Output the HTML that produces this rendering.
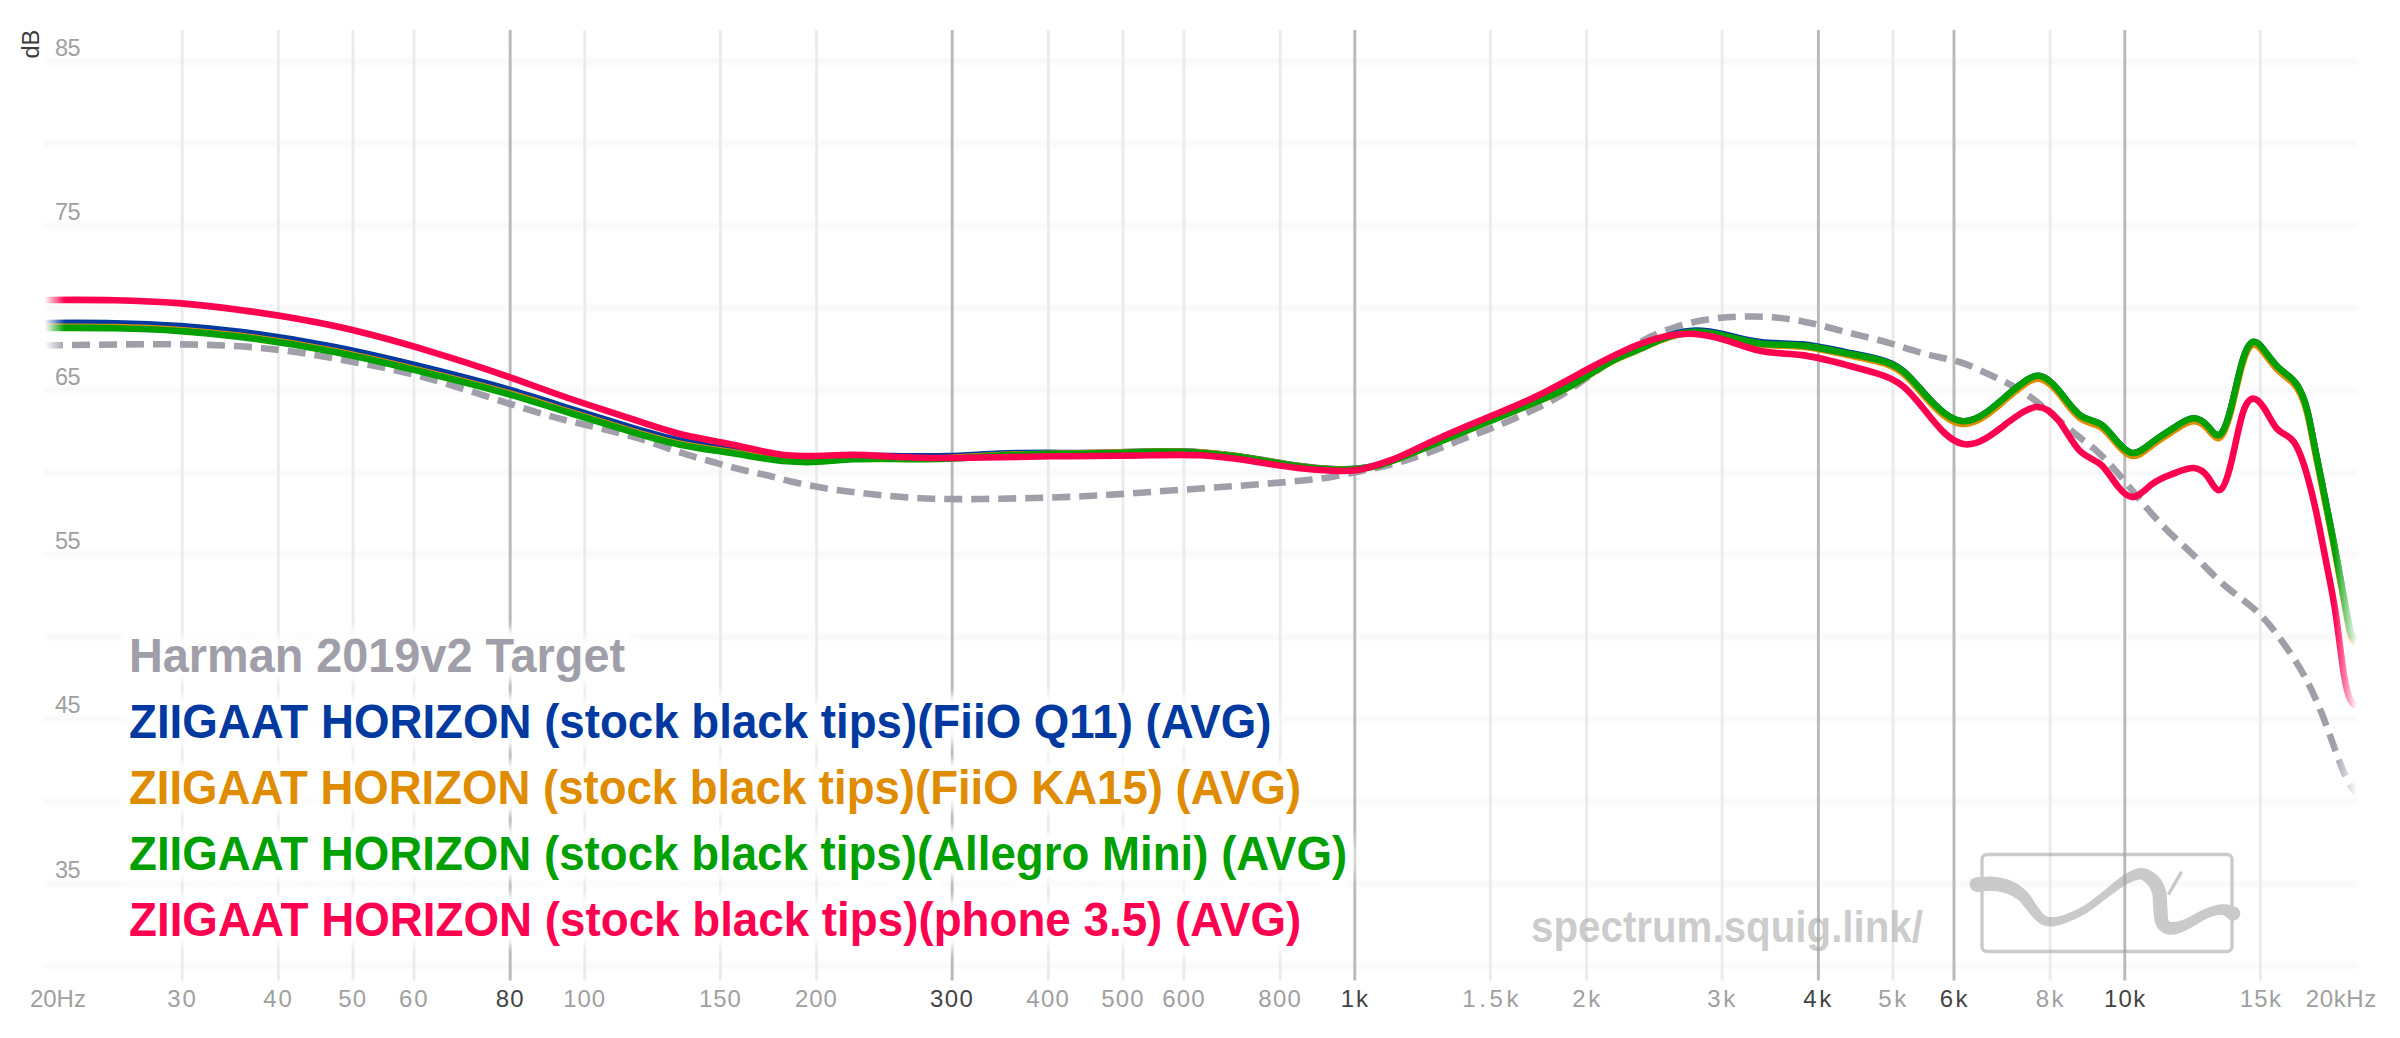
<!DOCTYPE html>
<html><head><meta charset="utf-8"><title>Frequency response</title>
<style>html,body{margin:0;padding:0;background:#fff;width:2400px;height:1038px;overflow:hidden}svg{display:block}</style>
</head><body>
<svg width="2400" height="1038" viewBox="0 0 2400 1038">
<defs>
<filter id="hb" x="-1%" y="-300%" width="102%" height="700%"><feGaussianBlur stdDeviation="2.2"/></filter>
<filter id="halo" x="-5%" y="-40%" width="110%" height="180%"><feGaussianBlur stdDeviation="4.5"/></filter>
<linearGradient id="fl" gradientUnits="userSpaceOnUse" x1="44.5" y1="0" x2="65" y2="0"><stop offset="0" stop-color="#000"/><stop offset="1" stop-color="#fff"/></linearGradient>
<linearGradient id="fr" gradientUnits="userSpaceOnUse" x1="2334" y1="0" x2="2357" y2="0"><stop offset="0" stop-color="#fff"/><stop offset="1" stop-color="#000"/></linearGradient>
<mask id="m" maskUnits="userSpaceOnUse" x="0" y="0" width="2400" height="1038">
<rect x="0" y="0" width="2400" height="1038" fill="#000"/>
<rect x="65" y="0" width="2269" height="1038" fill="#fff"/>
<rect x="44.5" y="0" width="20.5" height="1038" fill="url(#fl)"/>
<rect x="2334" y="0" width="23" height="1038" fill="url(#fr)"/>
</mask>
</defs>
<rect width="2400" height="1038" fill="#fff"/>
<g filter="url(#hb)" stroke="#f7f7f7" stroke-width="5">
<line x1="44" x2="2357" y1="965.6" y2="965.6"/>
<line x1="44" x2="2357" y1="883.4" y2="883.4"/>
<line x1="44" x2="2357" y1="801.2" y2="801.2"/>
<line x1="44" x2="2357" y1="719.0" y2="719.0"/>
<line x1="44" x2="2357" y1="636.8" y2="636.8"/>
<line x1="44" x2="2357" y1="554.6" y2="554.6"/>
<line x1="44" x2="2357" y1="472.4" y2="472.4"/>
<line x1="44" x2="2357" y1="390.1" y2="390.1"/>
<line x1="44" x2="2357" y1="307.9" y2="307.9"/>
<line x1="44" x2="2357" y1="225.7" y2="225.7"/>
<line x1="44" x2="2357" y1="143.5" y2="143.5"/>
<line x1="44" x2="2357" y1="61.3" y2="61.3"/>
</g>
<g stroke-width="2.9">
<line x1="182.18" x2="182.18" y1="30" y2="980.6" stroke="#ebebeb"/>
<line x1="278.39" x2="278.39" y1="30" y2="980.6" stroke="#ebebeb"/>
<line x1="353.01" x2="353.01" y1="30" y2="980.6" stroke="#ebebeb"/>
<line x1="413.98" x2="413.98" y1="30" y2="980.6" stroke="#ebebeb"/>
<line x1="584.80" x2="584.80" y1="30" y2="980.6" stroke="#ebebeb"/>
<line x1="720.39" x2="720.39" y1="30" y2="980.6" stroke="#ebebeb"/>
<line x1="816.59" x2="816.59" y1="30" y2="980.6" stroke="#ebebeb"/>
<line x1="1048.39" x2="1048.39" y1="30" y2="980.6" stroke="#ebebeb"/>
<line x1="1123.01" x2="1123.01" y1="30" y2="980.6" stroke="#ebebeb"/>
<line x1="1183.98" x2="1183.98" y1="30" y2="980.6" stroke="#ebebeb"/>
<line x1="1280.18" x2="1280.18" y1="30" y2="980.6" stroke="#ebebeb"/>
<line x1="1490.39" x2="1490.39" y1="30" y2="980.6" stroke="#ebebeb"/>
<line x1="1586.59" x2="1586.59" y1="30" y2="980.6" stroke="#ebebeb"/>
<line x1="1722.18" x2="1722.18" y1="30" y2="980.6" stroke="#ebebeb"/>
<line x1="1893.01" x2="1893.01" y1="30" y2="980.6" stroke="#ebebeb"/>
<line x1="2050.18" x2="2050.18" y1="30" y2="980.6" stroke="#ebebeb"/>
<line x1="2260.39" x2="2260.39" y1="30" y2="980.6" stroke="#ebebeb"/>
<line x1="510.18" x2="510.18" y1="30" y2="980.6" stroke="#b9b9b9"/>
<line x1="952.18" x2="952.18" y1="30" y2="980.6" stroke="#b9b9b9"/>
<line x1="1354.80" x2="1354.80" y1="30" y2="980.6" stroke="#b9b9b9"/>
<line x1="1818.39" x2="1818.39" y1="30" y2="980.6" stroke="#b9b9b9"/>
<line x1="1953.98" x2="1953.98" y1="30" y2="980.6" stroke="#b9b9b9"/>
<line x1="2124.80" x2="2124.80" y1="30" y2="980.6" stroke="#b9b9b9"/>
</g>
<g font-family="Liberation Sans, sans-serif" font-size="23.5" fill="#a0a0a0">
<text x="55" y="55.7" textLength="25.5" lengthAdjust="spacing">85</text>
<text x="55" y="220.1" textLength="25.5" lengthAdjust="spacing">75</text>
<text x="55" y="384.5" textLength="25.5" lengthAdjust="spacing">65</text>
<text x="55" y="549.0" textLength="25.5" lengthAdjust="spacing">55</text>
<text x="55" y="713.4" textLength="25.5" lengthAdjust="spacing">45</text>
<text x="55" y="877.8" textLength="25.5" lengthAdjust="spacing">35</text>
</g>
<text transform="translate(38.5,58.5) rotate(-90)" font-family="Liberation Sans, sans-serif" font-size="23.5" fill="#3c3c3c">dB</text>
<g font-family="Liberation Sans, sans-serif" font-size="24">
<text x="30.0" y="1007" fill="#a0a0a0" textLength="55.9" lengthAdjust="spacing">20Hz</text>
<text x="167.3" y="1007" fill="#a0a0a0" textLength="28.6" lengthAdjust="spacing">30</text>
<text x="263.3" y="1007" fill="#a0a0a0" textLength="28.6" lengthAdjust="spacing">40</text>
<text x="338.3" y="1007" fill="#a0a0a0" textLength="27.9" lengthAdjust="spacing">50</text>
<text x="399.0" y="1007" fill="#a0a0a0" textLength="28.5" lengthAdjust="spacing">60</text>
<text x="495.7" y="1007" fill="#444" textLength="27.8" lengthAdjust="spacing">80</text>
<text x="563.3" y="1007" fill="#a0a0a0" textLength="41.9" lengthAdjust="spacing">100</text>
<text x="699.0" y="1007" fill="#a0a0a0" textLength="41.9" lengthAdjust="spacing">150</text>
<text x="795.0" y="1007" fill="#a0a0a0" textLength="41.9" lengthAdjust="spacing">200</text>
<text x="930.0" y="1007" fill="#444" textLength="42.9" lengthAdjust="spacing">300</text>
<text x="1026.3" y="1007" fill="#a0a0a0" textLength="42.6" lengthAdjust="spacing">400</text>
<text x="1101.3" y="1007" fill="#a0a0a0" textLength="42.2" lengthAdjust="spacing">500</text>
<text x="1162.3" y="1007" fill="#a0a0a0" textLength="42.2" lengthAdjust="spacing">600</text>
<text x="1258.3" y="1007" fill="#a0a0a0" textLength="42.6" lengthAdjust="spacing">800</text>
<text x="1340.7" y="1007" fill="#444" textLength="27.2" lengthAdjust="spacing">1k</text>
<text x="1462.3" y="1007" fill="#a0a0a0" textLength="56.2" lengthAdjust="spacing">1.5k</text>
<text x="1572.3" y="1007" fill="#a0a0a0" textLength="27.9" lengthAdjust="spacing">2k</text>
<text x="1707.3" y="1007" fill="#a0a0a0" textLength="27.9" lengthAdjust="spacing">3k</text>
<text x="1803.3" y="1007" fill="#444" textLength="27.9" lengthAdjust="spacing">4k</text>
<text x="1878.3" y="1007" fill="#a0a0a0" textLength="27.9" lengthAdjust="spacing">5k</text>
<text x="1939.7" y="1007" fill="#444" textLength="27.8" lengthAdjust="spacing">6k</text>
<text x="2035.7" y="1007" fill="#a0a0a0" textLength="27.8" lengthAdjust="spacing">8k</text>
<text x="2104.0" y="1007" fill="#444" textLength="41.2" lengthAdjust="spacing">10k</text>
<text x="2239.7" y="1007" fill="#a0a0a0" textLength="41.2" lengthAdjust="spacing">15k</text>
<text x="2305.7" y="1007" fill="#a0a0a0" textLength="70.5" lengthAdjust="spacing">20kHz</text>
</g>
<text x="1531" y="942" font-family="Liberation Sans, sans-serif" font-weight="bold" font-size="44" fill="#a0a0a0" fill-opacity="0.55" textLength="392" lengthAdjust="spacingAndGlyphs">spectrum.squig.link/</text>
<g opacity="0.55">
<rect x="1982" y="854.5" width="250" height="97" rx="5" fill="none" stroke="#a0a0a0" stroke-width="3.4"/>
<path d="M1977.4,892.0 L1978.3,891.9 L1979.5,891.8 L1980.8,891.7 L1982.2,891.6 L1983.7,891.4 L1985.2,891.3 L1986.8,891.1 L1988.4,891.0 L1989.9,891.0 L1991.4,890.9 L1992.7,890.9 L1993.8,891.0 L1995.0,891.1 L1996.3,891.2 L1997.5,891.4 L1998.8,891.6 L2000.0,891.9 L2001.2,892.1 L2002.5,892.4 L2003.6,892.7 L2004.8,893.1 L2005.9,893.4 L2007.0,893.8 L2008.0,894.2 L2009.0,894.6 L2010.0,895.0 L2010.9,895.4 L2011.8,895.9 L2012.7,896.3 L2013.6,896.8 L2014.4,897.4 L2015.3,897.9 L2016.1,898.5 L2017.0,899.2 L2017.8,899.8 L2018.6,900.5 L2019.4,901.1 L2020.1,901.8 L2020.8,902.6 L2021.5,903.4 L2022.3,904.3 L2023.0,905.3 L2023.8,906.3 L2024.6,907.3 L2025.4,908.4 L2026.3,909.5 L2027.2,910.6 L2028.0,911.6 L2028.9,912.5 L2029.7,913.4 L2030.5,914.4 L2031.3,915.4 L2032.2,916.4 L2033.0,917.4 L2033.9,918.4 L2034.8,919.4 L2035.8,920.3 L2036.7,921.3 L2037.8,922.1 L2038.8,922.9 L2039.9,923.6 L2040.8,924.2 L2041.9,924.7 L2042.9,925.1 L2043.9,925.5 L2044.9,925.8 L2046.0,926.1 L2047.0,926.2 L2048.0,926.3 L2049.1,926.4 L2050.1,926.4 L2051.1,926.4 L2052.2,926.4 L2053.4,926.3 L2054.5,926.1 L2055.7,926.0 L2056.8,925.7 L2058.0,925.5 L2059.3,925.2 L2060.5,924.8 L2061.8,924.4 L2063.2,924.0 L2064.6,923.5 L2066.0,922.9 L2067.5,922.3 L2069.1,921.7 L2070.7,921.0 L2072.4,920.3 L2074.2,919.5 L2076.0,918.7 L2077.8,917.8 L2079.6,916.9 L2081.4,916.0 L2083.3,915.0 L2085.1,914.0 L2086.9,912.9 L2088.6,911.8 L2090.4,910.6 L2092.2,909.4 L2093.9,908.1 L2095.6,906.8 L2097.4,905.5 L2099.1,904.2 L2100.8,902.9 L2102.5,901.6 L2104.1,900.3 L2105.8,899.0 L2107.4,897.9 L2109.1,896.6 L2110.8,895.4 L2112.5,894.1 L2114.1,892.9 L2115.8,891.7 L2117.4,890.5 L2119.0,889.3 L2120.6,888.2 L2122.1,887.2 L2123.6,886.2 L2125.0,885.4 L2126.4,884.6 L2127.8,883.8 L2129.3,883.1 L2130.7,882.4 L2132.0,881.8 L2133.4,881.2 L2134.6,880.7 L2135.8,880.3 L2136.9,879.9 L2137.9,879.7 L2138.8,879.6 L2139.6,879.5 L2140.3,879.6 L2140.8,879.7 L2141.3,879.8 L2141.9,880.1 L2142.5,880.4 L2143.1,880.7 L2143.7,881.2 L2144.4,881.7 L2145.0,882.2 L2145.7,882.8 L2146.3,883.4 L2147.0,884.1 L2147.5,884.7 L2148.0,885.3 L2148.5,885.9 L2148.9,886.5 L2149.4,887.2 L2149.8,887.9 L2150.2,888.7 L2150.6,889.5 L2150.9,890.3 L2151.3,891.2 L2151.6,892.1 L2151.9,893.0 L2152.2,893.9 L2152.4,894.7 L2152.5,895.6 L2152.6,896.6 L2152.7,897.7 L2152.8,898.9 L2152.9,900.2 L2152.9,901.6 L2152.9,903.0 L2153.0,904.4 L2153.1,905.9 L2153.2,907.4 L2153.3,908.9 L2153.4,910.1 L2153.5,911.3 L2153.6,912.6 L2153.7,914.0 L2153.9,915.4 L2154.0,916.9 L2154.2,918.3 L2154.4,919.9 L2154.7,921.4 L2155.1,923.0 L2155.7,924.6 L2156.4,926.1 L2157.2,927.5 L2158.1,928.7 L2159.1,929.8 L2160.1,930.8 L2161.3,931.8 L2162.5,932.6 L2163.8,933.3 L2165.2,933.8 L2166.5,934.2 L2167.9,934.6 L2169.4,934.8 L2170.8,934.8 L2172.3,934.8 L2173.8,934.6 L2175.3,934.4 L2176.7,934.0 L2178.1,933.6 L2179.5,933.1 L2180.9,932.6 L2182.3,932.0 L2183.7,931.4 L2185.2,930.7 L2186.6,930.0 L2188.1,929.3 L2189.8,928.5 L2191.5,927.6 L2193.3,926.6 L2195.0,925.5 L2196.8,924.4 L2198.5,923.3 L2200.3,922.3 L2202.0,921.3 L2203.6,920.3 L2205.2,919.4 L2206.7,918.7 L2208.1,918.1 L2209.5,917.5 L2210.9,917.0 L2212.2,916.6 L2213.6,916.1 L2214.9,915.8 L2216.1,915.5 L2217.3,915.2 L2218.5,915.1 L2219.6,914.9 L2220.6,914.9 L2221.5,914.9 L2222.3,915.0 L2222.9,915.1 L2223.4,915.3 L2224.1,915.6 L2224.7,916.0 L2225.4,916.5 L2226.1,917.0 L2226.7,917.5 L2227.4,918.1 L2228.1,918.6 L2228.8,919.1 L2229.6,919.7 L2230.3,920.1 L2236.0,907.1 L2235.7,907.1 L2235.3,907.0 L2234.6,906.8 L2233.7,906.5 L2232.7,906.1 L2231.5,905.7 L2230.2,905.3 L2228.8,904.9 L2227.4,904.6 L2225.8,904.3 L2224.1,904.2 L2222.5,904.2 L2220.9,904.3 L2219.5,904.5 L2218.1,904.7 L2216.6,905.1 L2215.1,905.4 L2213.6,905.8 L2212.1,906.3 L2210.6,906.8 L2209.1,907.3 L2207.5,907.9 L2206.0,908.5 L2204.3,909.1 L2202.6,909.9 L2200.8,910.7 L2199.0,911.7 L2197.1,912.6 L2195.3,913.6 L2193.5,914.7 L2191.7,915.6 L2189.9,916.6 L2188.2,917.5 L2186.7,918.2 L2185.2,918.9 L2183.8,919.4 L2182.5,919.9 L2181.1,920.4 L2179.8,920.8 L2178.5,921.2 L2177.3,921.5 L2176.2,921.8 L2175.1,921.9 L2174.2,922.1 L2173.3,922.1 L2172.6,922.1 L2172.0,922.1 L2171.5,922.0 L2171.0,921.9 L2170.6,921.8 L2170.2,921.7 L2169.9,921.6 L2169.6,921.4 L2169.4,921.3 L2169.2,921.1 L2169.0,920.9 L2168.8,920.7 L2168.7,920.5 L2168.5,920.2 L2168.4,920.0 L2168.3,919.7 L2168.2,919.3 L2168.1,918.7 L2168.0,917.8 L2167.9,916.9 L2167.8,915.7 L2167.8,914.5 L2167.7,913.2 L2167.7,911.8 L2167.6,910.4 L2167.5,908.9 L2167.4,907.6 L2167.3,906.4 L2167.2,905.2 L2167.2,903.9 L2167.2,902.6 L2167.1,901.2 L2167.1,899.7 L2167.0,898.2 L2166.9,896.6 L2166.8,895.0 L2166.6,893.4 L2166.2,891.8 L2165.8,890.2 L2165.4,888.7 L2164.9,887.3 L2164.4,886.0 L2163.8,884.6 L2163.1,883.3 L2162.4,882.0 L2161.7,880.7 L2160.9,879.5 L2160.0,878.3 L2159.0,877.2 L2158.0,876.1 L2157.0,875.1 L2155.9,874.2 L2154.9,873.3 L2153.7,872.5 L2152.5,871.7 L2151.2,870.9 L2149.9,870.2 L2148.4,869.6 L2146.9,869.0 L2145.3,868.5 L2143.6,868.2 L2141.8,868.1 L2140.0,868.1 L2138.2,868.3 L2136.6,868.7 L2134.9,869.2 L2133.4,869.8 L2131.8,870.4 L2130.3,871.2 L2128.8,872.0 L2127.3,872.8 L2125.9,873.7 L2124.4,874.6 L2123.0,875.6 L2121.5,876.5 L2120.0,877.6 L2118.4,878.7 L2116.8,879.9 L2115.3,881.2 L2113.7,882.5 L2112.1,883.8 L2110.6,885.1 L2109.0,886.5 L2107.4,887.8 L2105.9,889.1 L2104.3,890.4 L2102.7,891.6 L2101.1,892.9 L2099.4,894.2 L2097.7,895.5 L2096.1,896.8 L2094.4,898.1 L2092.7,899.4 L2091.0,900.6 L2089.4,901.9 L2087.7,903.0 L2086.1,904.2 L2084.4,905.2 L2082.8,906.2 L2081.2,907.1 L2079.5,908.1 L2077.8,908.9 L2076.1,909.8 L2074.4,910.6 L2072.6,911.4 L2070.9,912.1 L2069.3,912.8 L2067.7,913.5 L2066.1,914.0 L2064.6,914.6 L2063.2,915.1 L2061.9,915.5 L2060.7,915.8 L2059.5,916.1 L2058.4,916.4 L2057.4,916.6 L2056.4,916.7 L2055.4,916.8 L2054.5,916.9 L2053.6,917.0 L2052.8,917.0 L2051.9,917.0 L2051.1,917.0 L2050.3,916.9 L2049.6,916.9 L2048.9,916.8 L2048.4,916.8 L2047.9,916.7 L2047.4,916.6 L2046.9,916.4 L2046.5,916.3 L2046.1,916.1 L2045.6,915.8 L2045.1,915.5 L2044.6,915.1 L2044.0,914.6 L2043.5,914.1 L2042.9,913.5 L2042.3,912.7 L2041.6,911.9 L2040.9,911.0 L2040.2,910.0 L2039.5,909.0 L2038.8,908.0 L2038.0,906.9 L2037.2,905.8 L2036.5,904.8 L2035.8,903.9 L2035.1,903.0 L2034.5,901.9 L2033.8,900.9 L2033.1,899.8 L2032.4,898.7 L2031.6,897.5 L2030.8,896.3 L2029.9,895.1 L2029.0,894.0 L2028.0,892.8 L2027.0,891.7 L2026.0,890.7 L2025.0,889.7 L2024.0,888.8 L2022.9,887.9 L2021.9,887.0 L2020.8,886.2 L2019.6,885.4 L2018.4,884.6 L2017.2,883.8 L2016.0,883.1 L2014.7,882.4 L2013.3,881.8 L2012.0,881.2 L2010.5,880.6 L2009.1,880.1 L2007.6,879.6 L2006.1,879.1 L2004.6,878.7 L2003.1,878.3 L2001.5,877.9 L1999.9,877.6 L1998.4,877.3 L1996.8,877.1 L1995.1,876.9 L1993.4,876.7 L1991.5,876.6 L1989.7,876.6 L1987.8,876.6 L1986.0,876.7 L1984.2,876.8 L1982.5,876.9 L1981.0,877.0 L1979.5,877.0 L1978.3,877.1 L1977.3,877.2 L1976.6,877.2Z" fill="#a0a0a0"/>
<circle cx="1977.0" cy="884.6" r="7.4" fill="#a0a0a0"/>
<circle cx="2233.2" cy="913.6" r="7.1" fill="#a0a0a0"/>
<path d="M2169.1,893.4 L2180.9,872.9" stroke="#a0a0a0" stroke-width="3.4" stroke-linecap="round"/>
</g>
<g mask="url(#m)">
<path d="M45.00,345.50 C68.33,345.12 91.67,344.75 115.00,344.50 C140.00,344.23 165.00,344.12 190.00,344.50 C206.67,344.76 223.33,345.24 240.00,346.30 C256.67,347.36 273.33,349.01 290.00,351.30 C306.67,353.59 323.33,356.51 340.00,359.50 C365.00,363.99 390.00,368.64 415.00,375.00 C440.00,381.36 465.00,389.43 490.00,397.50 C515.00,405.57 540.00,413.65 565.00,420.00 C590.00,426.35 615.00,430.96 640.00,438.80 C655.67,443.71 671.33,449.89 687.00,454.70 C695.67,457.36 704.33,459.61 713.00,462.00 C722.00,464.49 731.00,467.13 740.00,469.30 C749.00,471.47 758.00,473.15 767.00,475.30 C775.33,477.29 783.67,479.67 792.00,481.70 C811.33,486.42 830.67,489.27 850.00,491.70 C877.67,495.17 905.33,497.78 933.00,498.70 C955.33,499.45 977.67,499.10 1000.00,498.70 C1027.67,498.21 1055.33,497.65 1083.00,496.30 C1111.00,494.94 1139.00,492.78 1167.00,490.80 C1194.67,488.85 1222.33,487.08 1250.00,485.00 C1266.67,483.75 1283.33,482.39 1300.00,480.80 C1311.00,479.75 1322.00,478.61 1333.00,476.70 C1340.00,475.48 1347.00,473.96 1354.00,472.50 C1371.33,468.89 1388.67,465.68 1406.00,460.40 C1423.33,455.12 1440.67,447.78 1458.00,441.00 C1475.33,434.22 1492.67,428.01 1510.00,420.50 C1518.33,416.89 1526.67,412.97 1535.00,409.00 C1543.33,405.03 1551.67,400.99 1560.00,396.00 C1569.33,390.41 1578.67,383.62 1588.00,377.00 C1598.67,369.44 1609.33,362.10 1620.00,355.00 C1630.67,347.90 1641.33,341.04 1652.00,336.00 C1659.67,332.37 1667.33,329.68 1675.00,327.30 C1683.67,324.60 1692.33,322.30 1701.00,320.60 C1718.33,317.21 1735.67,316.25 1753.00,316.50 C1769.33,316.74 1785.67,318.04 1802.00,321.20 C1816.33,323.97 1830.67,328.16 1845.00,331.80 C1859.00,335.35 1873.00,338.38 1887.00,342.40 C1901.33,346.51 1915.67,351.66 1930.00,355.10 C1940.33,357.58 1950.67,359.17 1961.00,362.50 C1971.67,365.94 1982.33,371.24 1993.00,376.30 C2003.67,381.36 2014.33,386.18 2025.00,393.20 C2035.67,400.22 2046.33,409.43 2057.00,418.60 C2064.67,425.19 2072.33,431.76 2080.00,437.70 C2085.00,441.57 2090.00,445.18 2095.00,449.50 C2106.33,459.30 2117.67,472.78 2129.00,486.50 C2141.00,501.03 2153.00,515.84 2165.00,528.10 C2174.00,537.29 2183.00,545.06 2192.00,553.70 C2203.67,564.91 2215.33,577.59 2227.00,587.40 C2238.00,596.65 2249.00,603.33 2260.00,614.40 C2268.00,622.45 2276.00,632.82 2284.00,644.00 C2291.33,654.25 2298.67,665.18 2306.00,679.00 C2311.33,689.05 2316.67,700.64 2322.00,714.10 C2326.33,725.04 2330.67,737.21 2335.00,749.20 C2339.67,762.12 2344.33,774.82 2349.00,783.00 C2351.33,787.09 2353.67,790.04 2356.00,793.00" fill="none" stroke="#a09ea8" stroke-width="6.6" stroke-linejoin="round" stroke-dasharray="18 9"/>
<path d="M45.00,323.00 C68.33,322.88 91.67,322.76 115.00,323.20 C137.00,323.61 159.00,324.51 181.00,326.10 C200.67,327.52 220.33,329.49 240.00,331.90 C272.00,335.82 304.00,340.92 336.00,347.30 C369.00,353.88 402.00,361.81 435.00,370.02 C460.00,376.24 485.00,382.61 510.00,389.92 C530.00,395.77 550.00,402.21 570.00,408.56 C590.00,414.91 610.00,421.17 630.00,427.20 C646.67,432.23 663.33,437.10 680.00,440.58 C697.67,444.27 715.33,446.39 733.00,449.27 C751.00,452.20 769.00,455.92 787.00,457.55 C795.67,458.33 804.33,458.63 813.00,458.42 C826.33,458.10 839.67,456.59 853.00,455.99 C866.33,455.38 879.67,455.67 893.00,455.95 C911.00,456.33 929.00,456.69 947.00,456.17 C964.67,455.66 982.33,454.30 1000.00,453.60 C1033.33,452.29 1066.67,453.35 1100.00,452.80 C1133.33,452.25 1166.67,450.09 1200.00,452.20 C1216.67,453.25 1233.33,455.37 1250.00,458.00 C1266.67,460.63 1283.33,463.76 1300.00,466.00 C1311.00,467.48 1322.00,468.57 1333.00,469.00 C1341.33,469.33 1349.67,469.28 1358.00,468.50 C1365.33,467.81 1372.67,466.55 1380.00,464.50 C1386.67,462.64 1393.33,460.12 1400.00,457.50 C1410.67,453.31 1421.33,448.86 1432.00,444.42 C1449.33,437.21 1466.67,430.03 1484.00,422.79 C1501.33,415.55 1518.67,408.25 1536.00,401.16 C1544.00,397.89 1552.00,394.66 1560.00,390.70 C1569.33,386.08 1578.67,380.47 1588.00,374.53 C1596.00,369.44 1604.00,364.11 1612.00,359.96 C1620.00,355.81 1628.00,352.82 1636.00,349.38 C1644.00,345.94 1652.00,342.04 1660.00,338.80 C1670.67,334.48 1681.33,331.34 1692.00,330.69 C1703.67,329.98 1715.33,332.25 1727.00,334.98 C1738.00,337.55 1749.00,340.52 1760.00,341.95 C1774.00,343.77 1788.00,343.09 1802.00,344.36 C1816.33,345.66 1830.67,349.01 1845.00,351.98 C1855.33,354.11 1865.67,356.04 1876.00,358.56 C1885.00,360.75 1894.00,363.39 1903.00,370.73 C1910.67,376.98 1918.33,386.65 1926.00,395.26 C1932.00,402.00 1938.00,408.10 1944.00,412.74 C1949.67,417.12 1955.33,420.20 1961.00,421.00 C1968.67,422.09 1976.33,419.01 1984.00,414.00 C1991.67,408.99 1999.33,402.05 2007.00,395.50 C2012.67,390.66 2018.33,386.02 2024.00,382.00 C2028.67,378.69 2033.33,375.79 2038.00,375.80 C2045.00,375.81 2052.00,382.36 2059.00,390.90 C2066.33,399.84 2073.67,410.96 2081.00,416.00 C2088.00,420.81 2095.00,420.08 2102.00,425.20 C2107.33,429.10 2112.67,436.41 2118.00,442.50 C2122.67,447.83 2127.33,452.24 2132.00,453.00 C2138.67,454.08 2145.33,447.72 2152.00,442.50 C2160.00,436.24 2168.00,431.64 2176.00,426.40 C2182.00,422.47 2188.00,418.18 2194.00,418.30 C2198.67,418.40 2203.33,421.17 2208.00,426.40 C2212.00,430.89 2216.00,437.19 2220.00,434.50 C2223.67,432.04 2227.33,422.03 2231.00,407.90 C2235.00,392.49 2239.00,372.17 2243.00,359.30 C2246.33,348.57 2249.67,343.02 2253.00,342.00 C2256.67,340.88 2260.33,345.25 2264.00,350.00 C2268.33,355.61 2272.67,361.74 2277.00,366.20 C2282.33,371.69 2287.67,374.66 2293.00,380.00 C2297.93,384.94 2302.87,391.92 2307.80,412.80 C2310.00,422.11 2312.20,434.18 2314.40,445.50 C2316.60,456.82 2318.80,467.38 2321.00,478.30 C2323.17,489.06 2325.33,500.16 2327.50,511.00 C2329.67,521.84 2331.83,532.41 2334.00,543.80 C2336.00,554.32 2338.00,565.54 2340.00,576.50 C2342.00,587.46 2344.00,598.16 2346.00,609.30 C2347.47,617.47 2348.93,625.87 2350.40,631.00 C2352.27,637.53 2354.13,638.77 2356.00,640.00" fill="none" stroke="#0039a0" stroke-width="6.6" stroke-linejoin="round" />
<path d="M45.00,326.80 C68.33,326.69 91.67,326.58 115.00,327.02 C137.00,327.44 159.00,328.35 181.00,329.94 C200.67,331.37 220.33,333.34 240.00,335.76 C272.00,339.69 304.00,344.79 336.00,351.19 C369.00,357.79 402.00,365.78 435.00,373.92 C460.00,380.08 485.00,386.33 510.00,393.54 C530.00,399.31 550.00,405.69 570.00,411.96 C590.00,418.23 610.00,424.40 630.00,430.38 C646.67,435.36 663.33,440.22 680.00,443.69 C697.67,447.38 715.33,449.51 733.00,452.36 C751.00,455.26 769.00,458.91 787.00,460.44 C795.67,461.19 804.33,461.44 813.00,461.19 C826.33,460.80 839.67,459.22 853.00,458.56 C866.33,457.89 879.67,458.13 893.00,458.32 C911.00,458.59 929.00,458.77 947.00,458.11 C964.67,457.46 982.33,456.00 1000.00,455.10 C1033.33,453.40 1066.67,453.70 1100.00,452.90 C1133.33,452.10 1166.67,450.21 1200.00,452.40 C1216.67,453.50 1233.33,455.61 1250.00,458.25 C1266.67,460.89 1283.33,464.04 1300.00,466.30 C1311.00,467.79 1322.00,468.89 1333.00,469.33 C1341.33,469.67 1349.67,469.63 1358.00,468.86 C1365.33,468.18 1372.67,466.93 1380.00,464.88 C1386.67,463.02 1393.33,460.51 1400.00,457.90 C1410.67,453.73 1421.33,449.33 1432.00,444.93 C1449.33,437.79 1466.67,430.65 1484.00,423.48 C1501.33,416.31 1518.67,409.11 1536.00,402.12 C1544.00,398.89 1552.00,395.71 1560.00,391.79 C1569.33,387.23 1578.67,381.66 1588.00,375.78 C1596.00,370.74 1604.00,365.46 1612.00,361.36 C1620.00,357.25 1628.00,354.32 1636.00,350.94 C1644.00,347.55 1652.00,343.70 1660.00,340.51 C1670.67,336.26 1681.33,333.19 1692.00,332.61 C1703.67,331.98 1715.33,334.33 1727.00,337.13 C1738.00,339.76 1749.00,342.80 1760.00,344.27 C1774.00,346.14 1788.00,345.47 1802.00,346.76 C1816.33,348.09 1830.67,351.47 1845.00,354.46 C1855.33,356.63 1865.67,358.59 1876.00,361.14 C1885.00,363.36 1894.00,366.02 1903.00,373.39 C1910.67,379.66 1918.33,389.35 1926.00,397.99 C1932.00,404.75 1938.00,410.87 1944.00,415.52 C1949.67,419.92 1955.33,423.00 1961.00,423.80 C1968.67,424.90 1976.33,421.82 1984.00,416.82 C1991.67,411.81 1999.33,404.88 2007.00,398.33 C2012.67,393.48 2018.33,388.85 2024.00,384.83 C2028.67,381.52 2033.33,378.63 2038.00,378.64 C2045.00,378.66 2052.00,385.21 2059.00,393.75 C2066.33,402.69 2073.67,413.82 2081.00,418.86 C2088.00,423.67 2095.00,422.94 2102.00,428.07 C2107.33,431.97 2112.67,439.28 2118.00,445.37 C2122.67,450.71 2127.33,455.12 2132.00,455.88 C2138.67,456.97 2145.33,450.60 2152.00,445.39 C2160.00,439.13 2168.00,434.54 2176.00,429.30 C2182.00,425.37 2188.00,421.08 2194.00,421.21 C2198.67,421.31 2203.33,424.08 2208.00,429.31 C2212.00,433.80 2216.00,440.10 2220.00,437.42 C2223.67,434.96 2227.33,424.95 2231.00,410.82 C2235.00,395.41 2239.00,375.10 2243.00,362.23 C2246.33,351.51 2249.67,345.95 2253.00,344.93 C2256.67,343.82 2260.33,348.19 2264.00,352.94 C2268.33,358.55 2272.67,364.68 2277.00,369.15 C2282.33,374.64 2287.67,377.61 2293.00,382.95 C2297.93,387.90 2302.87,394.88 2307.80,415.76 C2310.00,425.07 2312.20,437.14 2314.40,448.46 C2316.60,459.78 2318.80,470.34 2321.00,481.26 C2323.17,492.02 2325.33,503.13 2327.50,513.97 C2329.67,524.81 2331.83,535.38 2334.00,546.77 C2336.00,557.29 2338.00,568.51 2340.00,579.47 C2342.00,590.44 2344.00,601.14 2346.00,612.28 C2347.47,620.44 2348.93,628.85 2350.40,633.98 C2352.27,640.51 2354.13,641.75 2356.00,642.98" fill="none" stroke="#e08c00" stroke-width="6.6" stroke-linejoin="round" />
<path d="M45.00,328.00 C68.33,327.88 91.67,327.77 115.00,328.20 C137.00,328.61 159.00,329.51 181.00,331.10 C200.67,332.52 220.33,334.49 240.00,336.90 C272.00,340.82 304.00,345.91 336.00,352.30 C369.00,358.89 402.00,366.87 435.00,375.00 C460.00,381.16 485.00,387.40 510.00,394.60 C530.00,400.36 550.00,406.73 570.00,413.00 C590.00,419.27 610.00,425.42 630.00,431.40 C646.67,436.38 663.33,441.24 680.00,444.70 C697.67,448.37 715.33,450.48 733.00,453.30 C751.00,456.17 769.00,459.79 787.00,461.30 C795.67,462.03 804.33,462.27 813.00,462.00 C826.33,461.59 839.67,459.99 853.00,459.30 C866.33,458.61 879.67,458.83 893.00,459.00 C911.00,459.24 929.00,459.39 947.00,458.70 C964.67,458.02 982.33,456.53 1000.00,455.60 C1033.33,453.85 1066.67,454.13 1100.00,453.30 C1133.33,452.47 1166.67,450.54 1200.00,452.70 C1216.67,453.78 1233.33,455.88 1250.00,458.50 C1266.67,461.12 1283.33,464.26 1300.00,466.50 C1311.00,467.98 1322.00,469.07 1333.00,469.50 C1341.33,469.83 1349.67,469.78 1358.00,469.00 C1365.33,468.31 1372.67,467.05 1380.00,465.00 C1386.67,463.13 1393.33,460.61 1400.00,458.00 C1410.67,453.82 1421.33,449.41 1432.00,445.00 C1449.33,437.84 1466.67,430.70 1484.00,423.50 C1501.33,416.30 1518.67,409.05 1536.00,402.00 C1544.00,398.75 1552.00,395.54 1560.00,391.60 C1569.33,387.00 1578.67,381.41 1588.00,375.50 C1596.00,370.43 1604.00,365.13 1612.00,361.00 C1620.00,356.87 1628.00,353.91 1636.00,350.50 C1644.00,347.09 1652.00,343.21 1660.00,340.00 C1670.67,335.72 1681.33,332.61 1692.00,332.00 C1703.67,331.33 1715.33,333.64 1727.00,336.40 C1738.00,339.00 1749.00,342.00 1760.00,343.40 C1774.00,345.19 1788.00,344.40 1802.00,345.60 C1816.33,346.83 1830.67,350.14 1845.00,353.00 C1855.33,355.06 1865.67,356.89 1876.00,359.30 C1885.00,361.40 1894.00,363.95 1903.00,371.20 C1910.67,377.38 1918.33,386.97 1926.00,395.50 C1932.00,402.18 1938.00,408.20 1944.00,412.80 C1949.67,417.14 1955.33,420.20 1961.00,421.00 C1968.67,422.08 1976.33,419.01 1984.00,414.00 C1991.67,408.99 1999.33,402.05 2007.00,395.50 C2012.67,390.66 2018.33,386.02 2024.00,382.00 C2028.67,378.69 2033.33,375.79 2038.00,375.80 C2045.00,375.81 2052.00,382.36 2059.00,390.90 C2066.33,399.84 2073.67,410.96 2081.00,416.00 C2088.00,420.81 2095.00,420.08 2102.00,425.20 C2107.33,429.10 2112.67,436.41 2118.00,442.50 C2122.67,447.83 2127.33,452.24 2132.00,453.00 C2138.67,454.08 2145.33,447.72 2152.00,442.50 C2160.00,436.24 2168.00,431.64 2176.00,426.40 C2182.00,422.47 2188.00,418.18 2194.00,418.30 C2198.67,418.40 2203.33,421.17 2208.00,426.40 C2212.00,430.89 2216.00,437.19 2220.00,434.50 C2223.67,432.04 2227.33,422.03 2231.00,407.90 C2235.00,392.49 2239.00,372.17 2243.00,359.30 C2246.33,348.57 2249.67,343.02 2253.00,342.00 C2256.67,340.88 2260.33,345.25 2264.00,350.00 C2268.33,355.61 2272.67,361.74 2277.00,366.20 C2282.33,371.69 2287.67,374.66 2293.00,380.00 C2297.93,384.94 2302.87,391.92 2307.80,412.80 C2310.00,422.11 2312.20,434.18 2314.40,445.50 C2316.60,456.82 2318.80,467.38 2321.00,478.30 C2323.17,489.06 2325.33,500.16 2327.50,511.00 C2329.67,521.84 2331.83,532.41 2334.00,543.80 C2336.00,554.32 2338.00,565.54 2340.00,576.50 C2342.00,587.46 2344.00,598.16 2346.00,609.30 C2347.47,617.47 2348.93,625.87 2350.40,631.00 C2352.27,637.53 2354.13,638.77 2356.00,640.00" fill="none" stroke="#00a000" stroke-width="6.6" stroke-linejoin="round" />
<path d="M45.00,300.00 C68.33,299.87 91.67,299.74 115.00,300.20 C137.00,300.64 159.00,301.60 181.00,303.40 C200.67,305.01 220.33,307.29 240.00,309.90 C272.00,314.15 304.00,319.28 336.00,326.30 C367.33,333.17 398.67,341.86 430.00,351.30 C456.67,359.33 483.33,367.90 510.00,377.30 C529.33,384.11 548.67,391.36 568.00,398.00 C588.67,405.10 609.33,411.51 630.00,418.40 C646.67,423.96 663.33,429.82 680.00,434.00 C697.67,438.43 715.33,440.96 733.00,444.70 C751.00,448.51 769.00,453.57 787.00,455.30 C795.67,456.13 804.33,456.19 813.00,456.00 C826.33,455.71 839.67,454.83 853.00,454.90 C866.33,454.97 879.67,456.00 893.00,456.70 C911.00,457.65 929.00,457.99 947.00,458.00 C964.67,458.01 982.33,457.68 1000.00,457.30 C1016.67,456.94 1033.33,456.54 1050.00,456.30 C1083.33,455.82 1116.67,456.00 1150.00,455.30 C1166.67,454.95 1183.33,454.39 1200.00,455.20 C1216.67,456.01 1233.33,458.20 1250.00,460.80 C1266.67,463.40 1283.33,466.40 1300.00,468.30 C1311.00,469.55 1322.00,470.32 1333.00,470.80 C1341.33,471.16 1349.67,471.36 1358.00,470.00 C1365.33,468.80 1372.67,466.40 1380.00,463.90 C1386.67,461.63 1393.33,459.27 1400.00,456.50 C1410.67,452.07 1421.33,446.58 1432.00,441.50 C1449.33,433.25 1466.67,426.09 1484.00,419.00 C1501.33,411.91 1518.67,404.88 1536.00,396.50 C1553.33,388.12 1570.67,378.37 1588.00,369.00 C1605.33,359.63 1622.67,350.63 1640.00,344.00 C1657.33,337.37 1674.67,333.09 1692.00,333.80 C1703.67,334.28 1715.33,337.01 1727.00,340.70 C1738.00,344.18 1749.00,348.50 1760.00,350.80 C1774.00,353.73 1788.00,353.38 1802.00,355.10 C1816.33,356.86 1830.67,360.79 1845.00,364.60 C1855.33,367.34 1865.67,370.02 1876.00,373.10 C1885.00,375.78 1894.00,378.76 1903.00,386.20 C1910.67,392.54 1918.33,402.11 1926.00,411.70 C1932.00,419.21 1938.00,426.72 1944.00,432.50 C1950.33,438.60 1956.67,442.75 1963.00,444.00 C1970.00,445.38 1977.00,443.22 1984.00,439.40 C1991.67,435.22 1999.33,429.04 2007.00,423.20 C2012.67,418.88 2018.33,414.74 2024.00,411.50 C2028.00,409.21 2032.00,407.38 2036.00,407.00 C2043.67,406.28 2051.33,410.93 2059.00,421.00 C2066.00,430.20 2073.00,443.91 2080.00,451.00 C2087.33,458.42 2094.67,458.57 2102.00,465.70 C2107.33,470.88 2112.67,479.76 2118.00,486.50 C2122.67,492.40 2127.33,496.66 2132.00,496.90 C2138.67,497.24 2145.33,489.37 2152.00,484.20 C2160.00,478.00 2168.00,475.68 2176.00,472.60 C2182.00,470.29 2188.00,467.55 2194.00,468.00 C2198.67,468.35 2203.33,470.64 2208.00,477.20 C2212.00,482.82 2216.00,491.58 2220.00,490.00 C2223.67,488.55 2227.33,478.41 2231.00,463.40 C2235.00,447.02 2239.00,424.84 2243.00,412.50 C2246.33,402.21 2249.67,398.76 2253.00,398.60 C2256.67,398.43 2260.33,402.25 2264.00,407.90 C2268.33,414.57 2272.67,423.80 2277.00,428.70 C2282.67,435.11 2288.33,434.13 2294.00,442.20 C2298.67,448.85 2303.33,461.63 2308.00,478.30 C2310.67,487.83 2313.33,498.63 2316.00,511.00 C2318.20,521.21 2320.40,532.49 2322.60,543.80 C2324.73,554.77 2326.87,565.76 2329.00,576.50 C2331.00,586.57 2333.00,596.41 2335.00,609.30 C2336.50,618.97 2338.00,630.35 2339.50,642.00 C2341.00,653.65 2342.50,665.56 2344.00,674.80 C2346.13,687.95 2348.27,695.70 2350.40,700.00 C2352.27,703.76 2354.13,704.88 2356.00,706.00" fill="none" stroke="#ff0050" stroke-width="6.6" stroke-linejoin="round" />
</g>
<g font-family="Liberation Sans, sans-serif" font-weight="bold" font-size="47.5">
<text x="129" y="671.5" fill="#fff" stroke="#fff" stroke-width="20" stroke-linejoin="round" filter="url(#halo)" opacity="1" textLength="496.0" lengthAdjust="spacingAndGlyphs">Harman 2019v2 Target</text>
<text x="129" y="737.5" fill="#fff" stroke="#fff" stroke-width="20" stroke-linejoin="round" filter="url(#halo)" opacity="1" textLength="1142.5" lengthAdjust="spacingAndGlyphs">ZIIGAAT HORIZON (stock black tips)(FiiO Q11) (AVG)</text>
<text x="129" y="803.5" fill="#fff" stroke="#fff" stroke-width="20" stroke-linejoin="round" filter="url(#halo)" opacity="1" textLength="1172.2" lengthAdjust="spacingAndGlyphs">ZIIGAAT HORIZON (stock black tips)(FiiO KA15) (AVG)</text>
<text x="129" y="869.5" fill="#fff" stroke="#fff" stroke-width="20" stroke-linejoin="round" filter="url(#halo)" opacity="1" textLength="1218.1" lengthAdjust="spacingAndGlyphs">ZIIGAAT HORIZON (stock black tips)(Allegro Mini) (AVG)</text>
<text x="129" y="935.5" fill="#fff" stroke="#fff" stroke-width="20" stroke-linejoin="round" filter="url(#halo)" opacity="1" textLength="1172.2" lengthAdjust="spacingAndGlyphs">ZIIGAAT HORIZON (stock black tips)(phone 3.5) (AVG)</text>
<text x="129" y="671.5" fill="#a09ea8" textLength="496.0" lengthAdjust="spacingAndGlyphs">Harman 2019v2 Target</text>
<text x="129" y="737.5" fill="#0039a0" textLength="1142.5" lengthAdjust="spacingAndGlyphs">ZIIGAAT HORIZON (stock black tips)(FiiO Q11) (AVG)</text>
<text x="129" y="803.5" fill="#e08c00" textLength="1172.2" lengthAdjust="spacingAndGlyphs">ZIIGAAT HORIZON (stock black tips)(FiiO KA15) (AVG)</text>
<text x="129" y="869.5" fill="#00a000" textLength="1218.1" lengthAdjust="spacingAndGlyphs">ZIIGAAT HORIZON (stock black tips)(Allegro Mini) (AVG)</text>
<text x="129" y="935.5" fill="#ff0050" textLength="1172.2" lengthAdjust="spacingAndGlyphs">ZIIGAAT HORIZON (stock black tips)(phone 3.5) (AVG)</text>
</g>
</svg>
</body></html>
